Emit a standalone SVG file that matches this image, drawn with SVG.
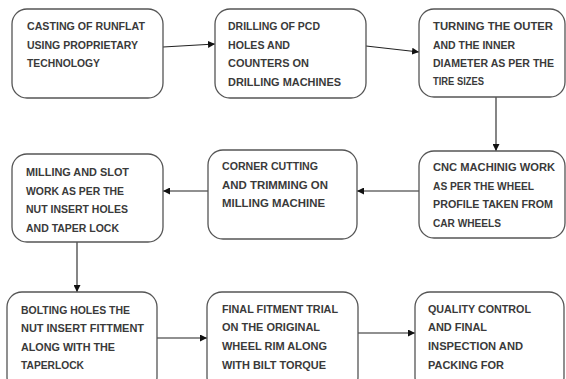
<svg xmlns="http://www.w3.org/2000/svg" width="566" height="379" viewBox="0 0 566 379">
<style>
.box{fill:#fff;stroke:#555;stroke-width:1.3}
.t{font-family:"Liberation Sans",Arial,sans-serif;font-weight:bold;font-size:11.5px;fill:#3a3a3a}
.c{stroke:#222;stroke-width:1.1;fill:none;marker-end:url(#ah)}
</style>
<defs>
<marker id="ah" viewBox="0 0 10 10" refX="10" refY="5" markerWidth="7" markerHeight="7" markerUnits="userSpaceOnUse" orient="auto">
<path d="M0,0 L10,5 L0,10 z" fill="#111"/>
</marker>
</defs>
<rect width="566" height="379" fill="#fff"/>
<g id="connectors">
<line class="c" x1="163" y1="47" x2="215" y2="44"/>
<line class="c" x1="366" y1="46" x2="419" y2="52"/>
<line class="c" x1="496" y1="97" x2="496" y2="151"/>
<line class="c" x1="419" y1="191" x2="357" y2="191"/>
<line class="c" x1="208" y1="191" x2="163" y2="191"/>
<line class="c" x1="77" y1="242" x2="77" y2="292"/>
<line class="c" x1="157" y1="338" x2="207" y2="338"/>
<line class="c" x1="358" y1="333" x2="415" y2="333"/>
</g>
<g id="n1">
<rect class="box" x="12" y="9" width="151" height="89" rx="15"/>
<text class="t" x="27" y="30" textLength="118" lengthAdjust="spacingAndGlyphs">CASTING OF RUNFLAT</text>
<text class="t" x="27" y="49" textLength="111" lengthAdjust="spacingAndGlyphs">USING PROPRIETARY</text>
<text class="t" x="27" y="67" textLength="73" lengthAdjust="spacingAndGlyphs">TECHNOLOGY</text>
</g>
<g id="n2">
<rect class="box" x="215" y="9" width="151" height="89" rx="15"/>
<text class="t" x="228" y="30" textLength="92" lengthAdjust="spacingAndGlyphs">DRILLING OF PCD</text>
<text class="t" x="228" y="49" textLength="62" lengthAdjust="spacingAndGlyphs">HOLES AND</text>
<text class="t" x="228" y="67" textLength="81" lengthAdjust="spacingAndGlyphs">COUNTERS ON</text>
<text class="t" x="228" y="86" textLength="113" lengthAdjust="spacingAndGlyphs">DRILLING MACHINES</text>
</g>
<g id="n3">
<rect class="box" x="419" y="9" width="146" height="88" rx="15"/>
<text class="t" x="433" y="30" textLength="120" lengthAdjust="spacingAndGlyphs">TURNING THE OUTER</text>
<text class="t" x="433" y="49" textLength="82" lengthAdjust="spacingAndGlyphs">AND THE INNER</text>
<text class="t" x="433" y="67" textLength="121" lengthAdjust="spacingAndGlyphs">DIAMETER AS PER THE</text>
<text class="t" x="433" y="85" textLength="51" lengthAdjust="spacingAndGlyphs">TIRE SIZES</text>
</g>
<g id="n4">
<rect class="box" x="12" y="154" width="151" height="88" rx="15"/>
<text class="t" x="26" y="176" textLength="103" lengthAdjust="spacingAndGlyphs">MILLING AND SLOT</text>
<text class="t" x="26" y="195" textLength="98" lengthAdjust="spacingAndGlyphs">WORK AS PER THE</text>
<text class="t" x="26" y="213" textLength="102" lengthAdjust="spacingAndGlyphs">NUT INSERT HOLES</text>
<text class="t" x="26" y="232" textLength="93" lengthAdjust="spacingAndGlyphs">AND TAPER LOCK</text>
</g>
<g id="n5">
<rect class="box" x="208" y="150" width="149" height="89" rx="15"/>
<text class="t" x="222" y="170" textLength="96" lengthAdjust="spacingAndGlyphs">CORNER CUTTING</text>
<text class="t" x="222" y="189" textLength="106" lengthAdjust="spacingAndGlyphs">AND TRIMMING ON</text>
<text class="t" x="222" y="207" textLength="103" lengthAdjust="spacingAndGlyphs">MILLING MACHINE</text>
</g>
<g id="n6">
<rect class="box" x="419" y="151" width="146" height="87" rx="15"/>
<text class="t" x="433" y="171" textLength="122" lengthAdjust="spacingAndGlyphs">CNC MACHINIG WORK</text>
<text class="t" x="433" y="190" textLength="101" lengthAdjust="spacingAndGlyphs">AS PER THE WHEEL</text>
<text class="t" x="433" y="208" textLength="120" lengthAdjust="spacingAndGlyphs">PROFILE TAKEN FROM</text>
<text class="t" x="433" y="227" textLength="68" lengthAdjust="spacingAndGlyphs">CAR WHEELS</text>
</g>
<g id="n7">
<rect class="box" x="7" y="292" width="150" height="100" rx="15"/>
<text class="t" x="21" y="314" textLength="109" lengthAdjust="spacingAndGlyphs">BOLTING HOLES THE</text>
<text class="t" x="21" y="332" textLength="123" lengthAdjust="spacingAndGlyphs">NUT INSERT FITTMENT</text>
<text class="t" x="21" y="351" textLength="94" lengthAdjust="spacingAndGlyphs">ALONG WITH THE</text>
<text class="t" x="21" y="369" textLength="63" lengthAdjust="spacingAndGlyphs">TAPERLOCK</text>
</g>
<g id="n8">
<rect class="box" x="207" y="292" width="151" height="100" rx="15"/>
<text class="t" x="222" y="313" textLength="116" lengthAdjust="spacingAndGlyphs">FINAL FITMENT TRIAL</text>
<text class="t" x="222" y="331" textLength="98" lengthAdjust="spacingAndGlyphs">ON THE ORIGINAL</text>
<text class="t" x="222" y="350" textLength="105" lengthAdjust="spacingAndGlyphs">WHEEL RIM ALONG</text>
<text class="t" x="222" y="369" textLength="104" lengthAdjust="spacingAndGlyphs">WITH BILT TORQUE</text>
</g>
<g id="n9">
<rect class="box" x="415" y="292" width="149" height="100" rx="15"/>
<text class="t" x="428" y="313" textLength="103" lengthAdjust="spacingAndGlyphs">QUALITY CONTROL</text>
<text class="t" x="428" y="331" textLength="59" lengthAdjust="spacingAndGlyphs">AND FINAL</text>
<text class="t" x="428" y="350" textLength="95" lengthAdjust="spacingAndGlyphs">INSPECTION AND</text>
<text class="t" x="428" y="369" textLength="76" lengthAdjust="spacingAndGlyphs">PACKING FOR</text>
</g>
</svg>
